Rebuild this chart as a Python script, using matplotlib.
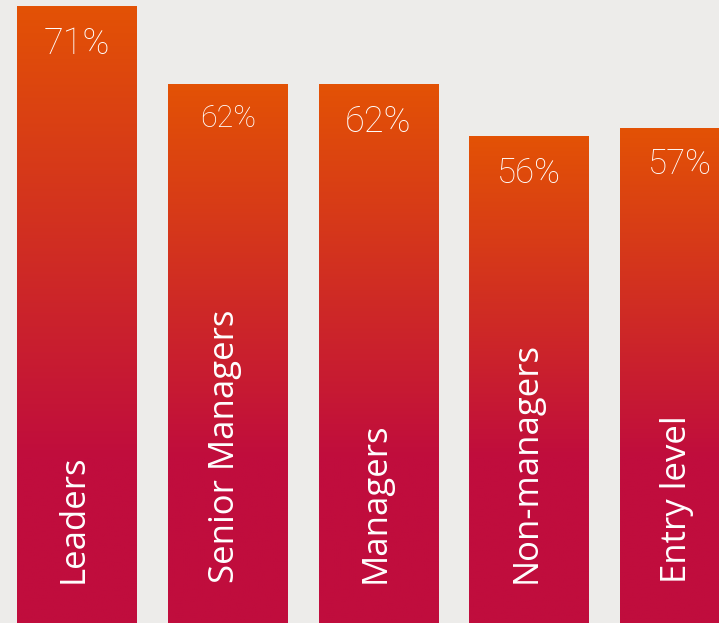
import numpy as np
import matplotlib
matplotlib.use('Agg')
import matplotlib.pyplot as plt
from matplotlib.colors import LinearSegmentedColormap

categories = ['Leaders', 'Senior Managers', 'Managers', 'Non-managers', 'Entry level']
values = [71, 62, 62, 56, 57]
value_labels = ['71%', '62%', '62%', '56%', '57%']

bg = '#EDECEA'
orange = '#E35205'
crimson = '#C00D3D'
solid_below = 19  # gradient fades into plain crimson below this level
label_sizes = [26, 22, 26, 25, 25]

cmap = LinearSegmentedColormap.from_list('bar_fade', [crimson, orange])

fig = plt.figure(figsize=(7.19, 6.23), dpi=100, facecolor=bg)
ax = fig.add_axes([0, 0, 1, 1])
ax.set_facecolor(bg)

x = np.arange(len(categories))
width = 0.796
bars = ax.bar(x, values, width=width, color='none', edgecolor='none')

for rect, v in zip(bars, values):
    y = np.linspace(0, v, 400)
    t = np.clip((y - solid_below) / (v - solid_below), 0, 1)
    img = ax.imshow(t[:, None], cmap=cmap, vmin=0, vmax=1, origin='lower',
                    aspect='auto', interpolation='bilinear',
                    extent=[rect.get_x(), rect.get_x() + rect.get_width(), 0, v])
    img.set_clip_path(rect)

for xi, v, lab, fs in zip(x, values, value_labels, label_sizes):
    ax.annotate(lab, (xi, v), xytext=(0, -20), textcoords='offset pixels',
                ha='center', va='top', color='white', fontsize=fs,
                family=['Roboto', 'DejaVu Sans'], fontweight='light')

for xi, cat in zip(x, categories):
    ax.annotate(cat, (xi, 0), xytext=(-3, 40), textcoords='offset pixels',
                ha='center', va='bottom', rotation=90, color='white',
                fontsize=25, family=['Open Sans', 'DejaVu Sans'])

ax.set_xlim(-0.511, 4.259)
ax.set_ylim(0, 71.69)
ax.axis('off')

fig.savefig('out.png', dpi=100, facecolor=bg)
